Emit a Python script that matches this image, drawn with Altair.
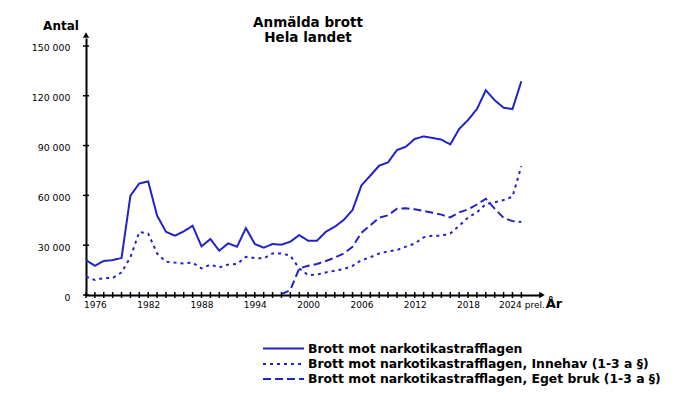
import altair as alt
import pandas as pd

# ---------------- data ----------------
YEARS = list(range(1975, 2025))
TOTAL = [21000, 17600, 20500, 21000, 22300, 59800, 67200, 68400, 47800, 38100,
         35700, 38300, 41700, 29300, 33700, 26700, 31100, 29100, 40300, 30700,
         28500, 30700, 30300, 32100, 36100, 32700, 32700, 38100, 41100, 45200,
         51200, 66000, 71900, 77900, 79900, 87300, 89300, 94000, 95500, 94600,
         93600, 90700, 100000, 105400, 112000, 123300, 117300, 112800, 112000, 128700]
INNEHAV = [11000, 9000, 10200, 10200, 13600, 22700, 38000, 37000, 25000, 20000,
           19500, 19000, 19500, 16000, 18300, 16600, 18300, 18700, 23000, 22300,
           22000, 25000, 25000, 23700, 16000, 12000, 12300, 13600, 14600, 15600,
           17500, 21000, 22700, 25000, 26300, 27100, 29100, 31000, 34700, 35700,
           35700, 37000, 41700, 46700, 49800, 54800, 55800, 57200, 59200, 77500]
EGET_YEARS = list(range(1997, 2025))
EGET_BRUK = [500, 3000, 16000, 17600, 18700, 20500, 22500, 25000, 29000, 37500,
             42000, 46500, 48000, 52000, 52200, 51600, 50600, 49600, 48400, 46700,
             49800, 51500, 54500, 58000, 52000, 46500, 44500, 44000]

SERIES = ["Brott mot narkotikastrafflagen",
          "Brott mot narkotikastrafflagen, Innehav (1-3 a §)",
          "Brott mot narkotikastrafflagen, Eget bruk (1-3 a §)"]
DASHES = [[1, 0], [3, 4], [8, 4]]
Y_TICKS = [0, 30000, 60000, 90000, 120000, 150000]
X_LABEL_YEARS = [1976, 1982, 1988, 1994, 2000, 2006, 2012, 2018, 2024]
LAST_LABEL = "2024 prel."
TITLE_LINES = ["Anmälda brott", "Hela landet"]
Y_TITLE = "Antal"
X_TITLE = "År"

rows = []
for yr, v in zip(YEARS, TOTAL):
    rows.append({"year": yr, "value": v, "series": SERIES[0]})
for yr, v in zip(YEARS, INNEHAV):
    rows.append({"year": yr, "value": v, "series": SERIES[1]})
for yr, v in zip(EGET_YEARS, EGET_BRUK):
    rows.append({"year": yr, "value": v, "series": SERIES[2]})
df = pd.DataFrame(rows)

# ---------------- style ----------------
W, H = 454, 257
BLUE = "#2222c8"
FONT = "DejaVu Sans"
LEGEND_ROW_Y = [310.5, 326, 341]

xscale = alt.Scale(domain=[1975, 2026.1], nice=False, zero=False)
yscale = alt.Scale(domain=[0, 154800], nice=False)
dash_scale = alt.Scale(domain=SERIES, range=DASHES)

x_label_expr = f"datum.value == {X_LABEL_YEARS[-1]} ? '{LAST_LABEL}' : datum.label"
y_label_expr = "datum.value == 0 ? '0' : format(datum.value / 1000, 'd') + ' 000'"

xaxis = alt.Axis(values=X_LABEL_YEARS, format="d", labelExpr=x_label_expr,
                 title=None, grid=False, ticks=False,
                 domain=True, domainColor="black", domainWidth=2,
                 labelFont=FONT, labelFontSize=9, labelColor="black",
                 labelPadding=5, labelOverlap=False, labelFlush=False)
yaxis = alt.Axis(values=Y_TICKS, labelExpr=y_label_expr,
                 title=None, grid=False, ticks=False,
                 domain=True, domainColor="black", domainWidth=2,
                 labelFont=FONT, labelFontSize=9.4, labelColor="black",
                 labelPadding=16, labelOffset=2, labelOverlap=False,
                 labelFlush=False)

lines = alt.Chart(df).mark_line(color=BLUE, strokeWidth=2).encode(
    x=alt.X("year:Q", scale=xscale, axis=xaxis),
    y=alt.Y("value:Q", scale=yscale, axis=yaxis),
    strokeDash=alt.StrokeDash("series:N", scale=dash_scale, legend=None),
)

x_ticks = alt.Chart(pd.DataFrame({"year": YEARS})).mark_rule(
    color="black", strokeWidth=1.5).encode(
    x=alt.X("year:Q", scale=xscale, axis=xaxis),
    y=alt.value(H - 3), y2=alt.value(H + 3))

y_ticks = alt.Chart(pd.DataFrame({"value": Y_TICKS})).mark_rule(
    color="black", strokeWidth=1.5).encode(
    y=alt.Y("value:Q", scale=yscale, axis=yaxis),
    x=alt.value(-3), x2=alt.value(3))

one = alt.Data(values=[{}])
arrow_up = alt.Chart(one).mark_point(shape="triangle-up", filled=True, color="black",
                                     opacity=1, size=40).encode(
    x=alt.value(0), y=alt.value(-3))
arrow_right = alt.Chart(one).mark_point(shape="triangle-right", filled=True, color="black",
                                        opacity=1, size=40).encode(
    x=alt.value(W + 2), y=alt.value(H))

title = alt.Chart(one).mark_text(text=TITLE_LINES, font=FONT, fontSize=13.5,
                                 fontWeight="bold", align="center",
                                 baseline="alphabetic", lineHeight=15,
                                 color="black").encode(
    x=alt.value(222), y=alt.value(-11))
ytitle = alt.Chart(one).mark_text(text=Y_TITLE, font=FONT, fontSize=12,
                                  fontWeight="bold", align="center",
                                  baseline="alphabetic", color="black").encode(
    x=alt.value(-25), y=alt.value(-8.5))
xtitle = alt.Chart(one).mark_text(text=X_TITLE, font=FONT, fontSize=13,
                                  fontWeight="bold", align="center",
                                  baseline="alphabetic", color="black").encode(
    x=alt.value(468), y=alt.value(270))

leg_df = pd.DataFrame({"series": SERIES, "row": [0, 1, 2]})
legend_layers = []
for i in range(len(SERIES)):
    base = alt.Chart(leg_df).transform_filter(alt.datum.row == i)
    legend_layers.append(
        base.mark_rule(color=BLUE, strokeWidth=2).encode(
            x=alt.value(177), x2=alt.value(218), y=alt.value(LEGEND_ROW_Y[i]),
            strokeDash=alt.StrokeDash("series:N", scale=dash_scale, legend=None)))
    legend_layers.append(
        base.mark_text(align="left", baseline="middle", font=FONT,
                       fontSize=12.4, fontWeight="bold", color="black").encode(
            x=alt.value(222), y=alt.value(LEGEND_ROW_Y[i]), text="series:N"))

chart = alt.layer(lines, x_ticks, y_ticks, arrow_up, arrow_right,
                  title, ytitle, xtitle, *legend_layers).properties(
    width=W, height=H,
    padding={"left": 78, "top": 30, "right": 132, "bottom": 98},
    autosize=alt.AutoSizeParams(type="none"),
    background="white",
).configure_view(stroke=None)

chart.save("out.html", embed_options={"renderer": "svg", "actions": False})
